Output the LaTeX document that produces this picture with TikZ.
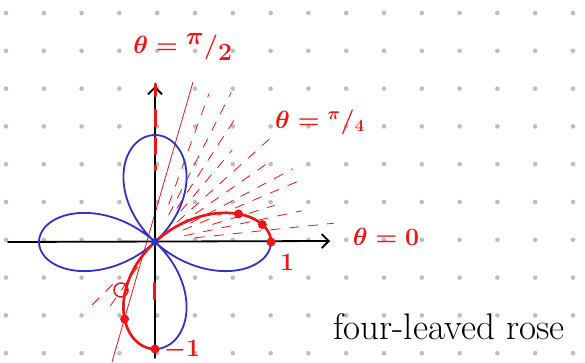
\documentclass[tikz,border=0pt]{standalone}
\usepackage{fontspec}
\usetikzlibrary{arrows.meta,calc}
\definecolor{rosered}{RGB}{240,20,20}
\definecolor{roseblue}{RGB}{50,50,200}
\definecolor{dotgray}{RGB}{190,190,190}
\begin{document}
\begin{tikzpicture}[x=1pt,y=-1pt,
  axisline/.style={line width=1.8pt,black,line cap=round,-{Straight Barb[length=7pt,width=14pt,line width=1.8pt]}},
  rosecurve/.style={line width=1.8pt,roseblue,line join=round},
  tracecurve/.style={line width=2.6pt,rosered,line join=round,line cap=round},
  raydash/.style={line width=0.8pt,rosered,dash pattern=on 10pt off 9pt},
  axisdash/.style={line width=3pt,rosered,line cap=round,dash pattern=on 16pt off 12pt},
  redlabel/.style={text=rosered,inner sep=0pt,font=\fontsize{30}{30}\selectfont\boldmath},
  markdot/.style={fill=rosered}]
\useasboundingbox (0,0) rectangle (585,363);
\fill[white] (0,0) rectangle (585,363);
% dot grid
\foreach \i in {0,...,15}{
  \foreach \j in {0,...,9}{
    \fill[dotgray] ({6+37.8*\i},{13+37.8*\j}) circle (2.3pt);
  }
}
\coordinate (O) at (155,242);
% dashed rays
\foreach \a/\rs/\re in {6/40/180, 12/30/150, 17/60/125, 23/30/160, 28/40/156, 35/30/135, 42/30/154, 50/40/120, 57/40/150, 63/30/168, 70/40/158}{
  \draw[raydash] ($(O)+(-\a:\rs)$) -- ($(O)+(-\a:\re)$);
}
\draw[raydash] ($(O)+(-235:30)$) -- ($(O)+(-235:80)$);
\draw[raydash] ($(O)+(-225:60)$) -- ($(O)+(-225:95)$);
% thin solid line
\coordinate (la) at (112,362);
\coordinate (lb) at (193,82);
\draw[rosered,line width=0.8pt] (la) -- (lb);
% axes
\coordinate (xl) at (8,242);
\coordinate (xr) at (330,241);
\coordinate (yb) at (155,358);
\coordinate (yt) at (155,86);
\draw[axisline] (xl) -- (xr);
\draw[axisline] (yb) -- (yt);
% red dashes along theta = pi/2
\draw[axisdash] (155,110) -- (155,170);
\draw[rosered,line width=3pt,line cap=round] (155,84) -- (155,96);
\draw[axisdash] (154,283) -- (154,305);
% blue rose
\draw[rosecurve] plot[domain=0:360,samples=240,smooth]
  ({155+116*cos(2*\x)*cos(\x)},{242-107*cos(2*\x)*sin(\x)}) -- cycle;
% red trace for theta in [0, pi/2]
\draw[tracecurve] plot[domain=0:90,samples=90,smooth]
  ({155+116*cos(2*\x)*cos(\x)},{242-107*cos(2*\x)*sin(\x)});
\draw[rosered,line width=1.5pt] (121,290) circle (7pt);
\foreach \t in {0,10,20,70,90}{
  \fill[markdot] ({155+116*cos(2*\t)*cos(\t)},{242-107*cos(2*\t)*sin(\t)}) circle (4.5pt);
}
\fill[roseblue] (O) circle (4pt);
% labels
\node[redlabel,font=\fontsize{33}{33}\selectfont\boldmath] (lhalf) at (183,47) {$\theta={}^{\pi}/{}_{2}$};
\node[redlabel,font=\fontsize{26}{26}\selectfont\boldmath] (lquarter) at (320,122) {$\theta={}^{\pi}/{}_{4}$};
\node[redlabel,font=\fontsize{28}{28}\selectfont\boldmath] (lzero) at (386,237) {$\theta=0$};
\node[redlabel,font=\fontsize{26}{26}\selectfont\boldmath] (lone) at (287,262) {$1$};
\node[redlabel,font=\fontsize{26}{26}\selectfont\boldmath] (lmone) at (182,350) {$-1$};
\node[inner sep=0pt,font=\fontsize{37}{37}\selectfont] (title) at (449,327) {four-leaved rose};
\end{tikzpicture}
\end{document}
